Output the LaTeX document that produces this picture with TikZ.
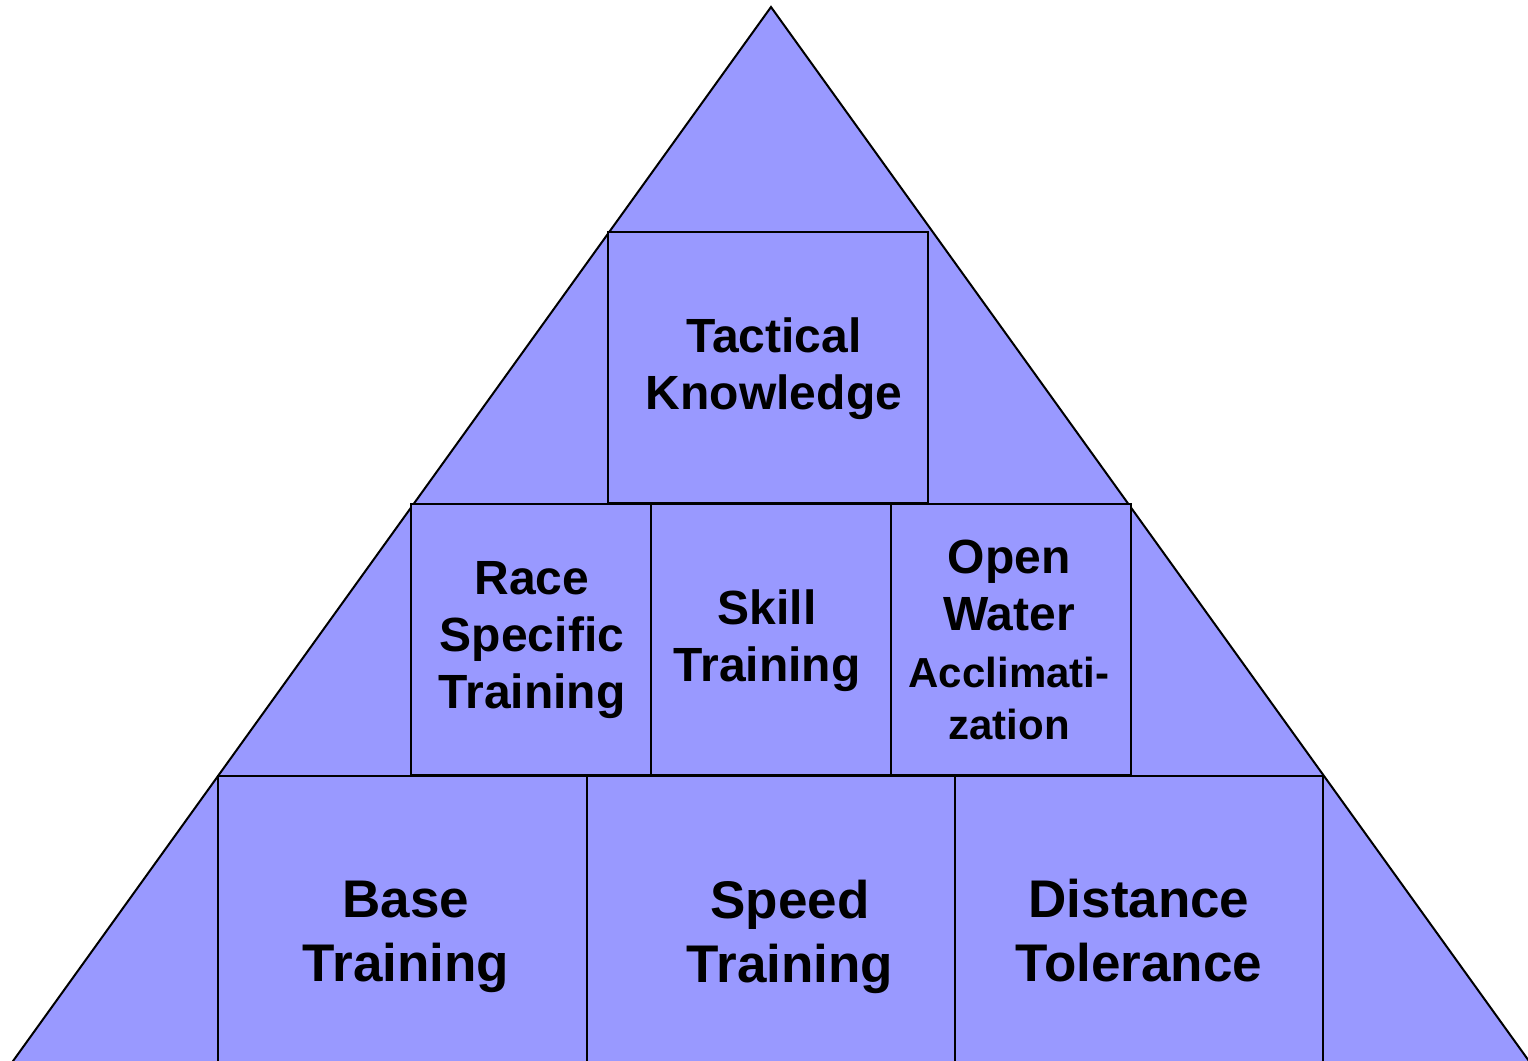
\documentclass[tikz,border=0pt]{standalone}
\usepackage{fontspec}
\setmainfont{Liberation Sans}
\definecolor{pyramid}{HTML}{9999FF}
\tikzset{
  blocktext/.style={align=center,font=\bfseries\fontsize{24}{28.5}\selectfont},
  bigtext/.style={align=center,font=\bfseries\fontsize{26.5}{32}\selectfont},
}
\newcommand{\smalltxt}{\fontsize{21}{25}\selectfont}
\begin{document}
\begin{tikzpicture}[x=0.5pt,y=-0.5pt,line width=1pt]
\useasboundingbox (0,0) rectangle (1528,1061);
\clip (0,0) rectangle (1528,1061);

\begin{scope}[fill=pyramid,draw=black]
  \filldraw (771,7) -- (1557,1100) -- (-15,1100) -- cycle;
  % top
  \filldraw (608,232) rectangle (928,503);
  % middle row
  \filldraw (411,504) rectangle (651,775);
  \filldraw (651,504) rectangle (891,775);
  \filldraw (891,504) rectangle (1131,775);
  % bottom row
  \filldraw (218,776) rectangle (587,1100);
  \filldraw (587,776) rectangle (955,1100);
  \filldraw (955,776) rectangle (1323,1100);
\end{scope}

\begin{scope}
  \node[blocktext] (tactical) at (774,369) {Tactical\\Knowledge};
  \node[blocktext] (race) at (532,640) {Race\\Specific\\Training};
  \node[blocktext] (skill) at (767,641) {Skill\\Training};
  \node[blocktext] (openwater) at (1009,640) {Open\\Water\\{\smalltxt Acclimati-}\\[-2.5pt]{\smalltxt zation}};
  \node[bigtext] (base) at (406,937) {Base\\Training};
  \node[bigtext] (speed) at (790,937) {Speed\\Training};
  \node[bigtext] (distance) at (1139,931) {Distance\\Tolerance};
\end{scope}

\end{tikzpicture}
\end{document}
